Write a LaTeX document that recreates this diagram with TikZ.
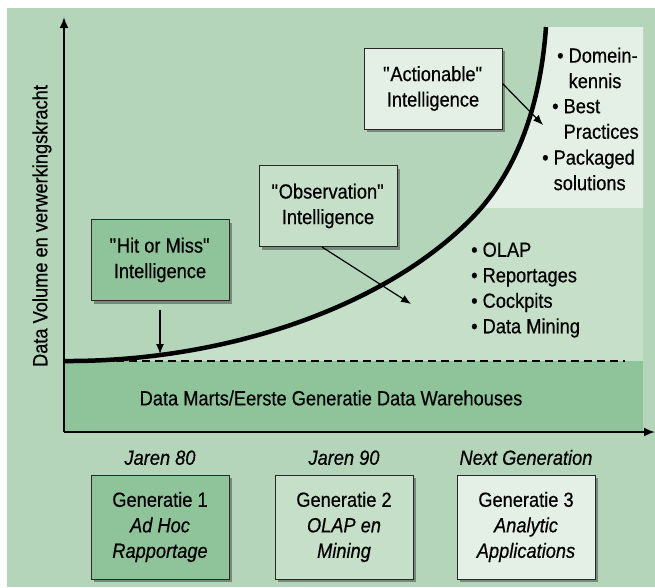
\documentclass[tikz,border=0pt]{standalone}
\usepackage{fontspec}
\setmainfont[FakeStretch=0.89, FakeBold=0.5]{Liberation Sans}
\usepackage{tikz}
\usetikzlibrary{positioning, shadows, arrows.meta}
\definecolor{PanelGreen}{RGB}{181, 213, 187}
\definecolor{DeepGreen}{RGB}{143, 196, 155}
\definecolor{SoftGreen}{RGB}{197, 223, 200}
\definecolor{PaleGreen}{RGB}{228, 239, 229}
\definecolor{EdgeGray}{RGB}{40, 40, 40}
\newcommand{\growthcurve}{(64,361) .. controls (220,362) and (380,310) .. (470,220) .. controls (515,175) and (540,110) .. (546,27)}
\newcommand{\qq}{\textquotedbl}

\begin{document}
\begin{tikzpicture}[
    x=1pt, y=-1pt,
    font=\fontsize{20.5}{25.5}\selectfont,
    intelbox/.style={rectangle, draw=EdgeGray, line width=1pt, align=center, inner sep=2pt, minimum width=138pt, minimum height=81pt, drop shadow={shadow xshift=3pt, shadow yshift=-3pt, fill=black, opacity=0.35}},
    genbox/.style={intelbox, minimum height=104pt},
    eralabel/.style={font=\fontsize{20.5}{24}\selectfont\itshape},
    bulletlist/.style={align=left, anchor=west, inner sep=0pt},
    arrowstyle/.style={-{Latex[length=10pt, width=8pt]}, line width=1.2pt, black},
    axisstyle/.style={-{Latex[length=11pt, width=9pt]}, line width=1.8pt, black}
]

    % Canvas and panel
    \useasboundingbox (0,0) rectangle (655,587);
    \fill[white] (0,0) rectangle (655,587);
    \fill[PanelGreen] (7,8) rectangle (655,587);

    % Shaded areas right of the curve
    \begin{scope}
        \clip (0,27) rectangle (643,208);
        \fill[PaleGreen] \growthcurve -- (643,27) -- (643,361) -- cycle;
    \end{scope}
    \begin{scope}
        \clip (0,208) rectangle (643,361);
        \fill[SoftGreen] \growthcurve -- (643,27) -- (643,361) -- cycle;
    \end{scope}

    % Layer: Data Marts band
    \fill[DeepGreen] (64,361) rectangle (643,432);
    \draw[line width=1.8pt, dash pattern=on 8pt off 5pt] (64,361) -- (625,361);
    \node (marts) at (331,398) {Data Marts/Eerste Generatie Data Warehouses};

    % Growth curve
    \draw[line width=4.5pt] \growthcurve;

    % Axes
    \coordinate (origin) at (64,432);
    \coordinate (ytop) at (64,17);
    \coordinate (xend) at (655,432);
    \draw[axisstyle] (origin) -- (ytop);
    \draw[axisstyle] (origin) -- (xend);
    \node (ylabel) [rotate=90] at (42,226) {Data Volume en verwerkingskracht};

    % Intelligence stages
    \node (hit) [intelbox, fill=DeepGreen] at (160,260) {\qq Hit or Miss\qq\\Intelligence};
    \node (obs) [intelbox, fill=SoftGreen] at (328,206) {\qq Observation\qq\\Intelligence};
    \node (act) [intelbox, fill=PaleGreen] at (433,88.5) {\qq Actionable\qq\\Intelligence};

    \coordinate (hittip) at (160,354);
    \coordinate (obstip) at (411,304);
    \coordinate (acttip) at (543,125);
    \draw[arrowstyle, shorten <=9pt] (hit) -- (hittip);
    \draw[arrowstyle] ([xshift=-6pt]obs.south) -- (obstip);
    \draw[arrowstyle] ([yshift=5pt]act.east) -- (acttip);

    % Feature lists
    \node (domein) [bulletlist] at (557,68) {\textbullet\ Domein-\\\phantom{\textbullet\ }kennis};
    \node (best) [bulletlist] at (552,119) {\textbullet\ Best\\\phantom{\textbullet\ }Practices};
    \node (packaged) [bulletlist] at (542,170) {\textbullet\ Packaged\\\phantom{\textbullet\ }solutions};
    \node (olap) [bulletlist] at (471,290) {\textbullet\ OLAP\\\textbullet\ Reportages\\\textbullet\ Cockpits\\\textbullet\ Data Mining};

    % Generations
    \node (gen1) [genbox, fill=DeepGreen] at (160,527) {Generatie 1\\\textit{Ad Hoc}\\\textit{Rapportage}};
    \node (gen2) [genbox, fill=SoftGreen, right=45pt of gen1] {Generatie 2\\\textit{OLAP en}\\\textit{Mining}};
    \node (gen3) [genbox, fill=PaleGreen, right=43pt of gen2] {Generatie 3\\\textit{Analytic}\\\textit{Applications}};

    \node (era80) [eralabel, above=6pt of gen1] {Jaren 80};
    \node (era90) [eralabel, above=6pt of gen2] {Jaren 90};
    \node (eranext) [eralabel, above=6pt of gen3] {Next Generation};

\end{tikzpicture}
\end{document}
